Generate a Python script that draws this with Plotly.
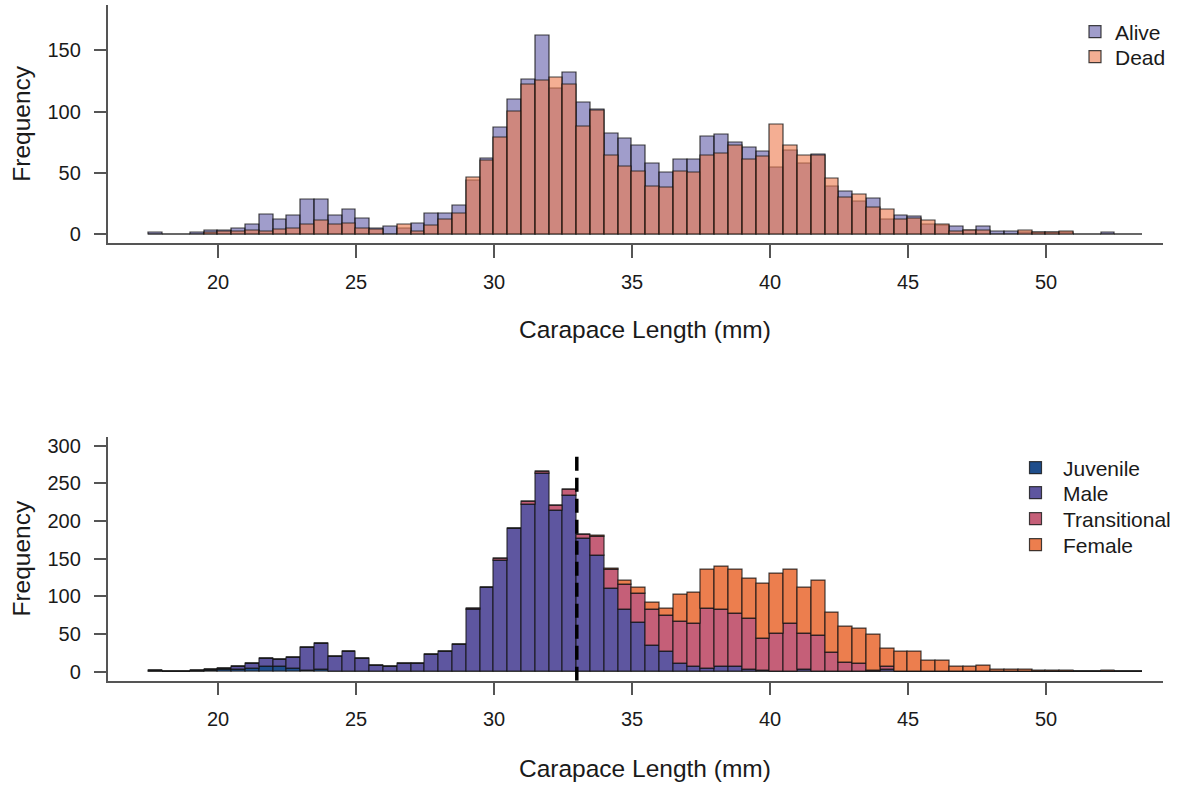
import plotly.graph_objects as go

# ---------------- data ----------------
bin_start = 17.5
bin_width = 0.5

alive = [1, 0, 0, 1, 3, 3, 5, 8, 16, 12,
         15, 28, 28, 15, 20, 13, 5, 6, 5, 9,
         17, 17, 23, 44, 62, 87, 110, 126, 162, 119,
         132, 107, 102, 82, 78, 72, 58, 50, 61, 61,
         80, 81, 75, 71, 67, 54, 68, 58, 65, 39,
         35, 27, 29, 12, 15, 14, 8, 7, 6, 3,
         6, 2, 2, 1, 1, 1, 1, 0, 0, 1,
         0, 0]
dead = [0, 0, 0, 0, 1, 2, 2, 3, 2, 4,
        5, 8, 11, 8, 9, 5, 4, 0, 8, 2,
        7, 12, 17, 46, 60, 79, 100, 122, 125, 128,
        122, 88, 101, 64, 55, 51, 39, 38, 51, 50,
        64, 66, 72, 61, 63, 89, 72, 64, 64, 45,
        30, 32, 22, 20, 12, 13, 11, 8, 2, 3,
        3, 0, 0, 3, 1, 1, 2, 0, 0, 0,
        0, 0]

juvenile = [0, 0, 0, 0, 1, 2, 3, 4, 7, 7,
            4, 1, 3, 0, 0, 0, 0, 0, 0, 0,
            0, 0, 0, 0, 0, 0, 0, 0, 0, 0,
            0, 0, 0, 0, 0, 0, 0, 0, 0, 0,
            0, 0, 0, 0, 0, 0, 0, 0, 0, 0,
            0, 0, 0, 0, 0, 0, 0, 0, 0, 0,
            0, 0, 0, 0, 0, 0, 0, 0, 0, 0,
            0, 0]
male = [1, 0, 0, 1, 2, 2, 4, 7, 10, 9,
        15, 31, 34, 20, 27, 17, 8, 6, 11, 10,
        22, 26, 36, 82, 112, 147, 190, 222, 263, 214,
        233, 176, 154, 110, 82, 65, 34, 26, 10, 7,
        4, 6, 7, 2, 1, 0, 0, 2, 0, 0,
        0, 0, 0, 3, 0, 0, 0, 0, 0, 0,
        0, 0, 0, 0, 0, 0, 0, 0, 0, 0,
        0, 0]
transitional = [0, 0, 0, 0, 0, 0, 0, 0, 0, 0,
                0, 0, 0, 0, 0, 0, 0, 0, 0, 0,
                0, 0, 0, 1, 0, 3, 0, 4, 2, 6,
                8, 6, 25, 26, 34, 39, 48, 48, 56, 57,
                80, 76, 70, 68, 43, 50, 64, 48, 48, 25,
                12, 11, 1, 4, 0, 0, 0, 0, 0, 0,
                0, 0, 0, 0, 0, 0, 0, 0, 0, 0,
                0, 0]
female = [0, 0, 0, 0, 0, 0, 0, 0, 0, 0,
          0, 0, 0, 0, 0, 0, 0, 0, 0, 0,
          0, 0, 0, 0, 0, 0, 0, 0, 0, 0,
          0, 0, 1, 1, 5, 8, 9, 9, 36, 41,
          52, 58, 59, 53, 73, 80, 71, 62, 73, 53,
          48, 46, 48, 24, 26, 26, 15, 15, 6, 6,
          8, 2, 2, 2, 1, 1, 1, 0, 0, 1,
          0, 0]

x_ticks = [20, 25, 30, 35, 40, 45, 50]
y_ticks_top = [0, 50, 100, 150]
y_ticks_bottom = [0, 50, 100, 150, 200, 250, 300]
maturity_cutoff = 33
x_title = "Carapace Length (mm)"
y_title = "Frequency"

# ---------------- figure ----------------
n_bins = len(alive)
centers = [bin_start + bin_width * (i + 0.5) for i in range(n_bins)]

W, H = 1184, 786
FONT = "Liberation Sans, Arial, sans-serif"
TXT = "#1a1a1a"
AXC = "#555555"
EDGE = dict(color="rgba(20,20,20,0.8)", width=1.2)
LEG_FONT = dict(size=21, family=FONT, color=TXT)
TITLE_FONT = dict(size=24.5, family=FONT, color=TXT)

fig = go.Figure()

# top panel: overlaid histograms (one legend per entry for exact placement)
top_series = [("Alive", alive, "rgba(97,92,168,0.6)", 32),
              ("Dead", dead, "rgba(237,120,75,0.6)", 57)]
legend_layout = {}
k = 1
for name, vals, col, ly in top_series:
    lname = "legend" if k == 1 else f"legend{k}"
    fig.add_trace(go.Bar(x=centers, y=vals, width=bin_width, name=name,
                         marker=dict(color=col, line=EDGE),
                         xaxis="x", yaxis="y", legend=lname))
    legend_layout[lname] = dict(x=1075 / W, y=1 - ly / H, xanchor="left", yanchor="middle",
                                font=LEG_FONT, bgcolor="rgba(0,0,0,0)", itemwidth=30)
    k += 1

# bottom panel: stacked histograms using base
series = [("Juvenile", juvenile, "#1f4e8c", 468),
          ("Male", male, "#5e56a0", 493),
          ("Transitional", transitional, "#c55f78", 519),
          ("Female", female, "#ec7e4e", 545)]
cum = [0] * n_bins
for name, vals, col, ly in series:
    lname = f"legend{k}"
    fig.add_trace(go.Bar(x=centers, y=vals, base=list(cum), width=bin_width, name=name,
                         marker=dict(color=col, line=EDGE),
                         xaxis="x2", yaxis="y2", legend=lname))
    legend_layout[lname] = dict(x=1008 / W, y=1 - ly / H, xanchor="left", yanchor="middle",
                                font=LEG_FONT, bgcolor="rgba(0,0,0,0)", itemwidth=45)
    cum = [c + v for c, v in zip(cum, vals)]
    k += 1

px_per_mm = 27.6
x_left_px, x20_px = 107.6, 218.0
x_range = [20 - (x20_px - x_left_px) / px_per_mm, 54.25]
x_right_px = x20_px + (x_range[1] - 20) * px_per_mm
xdom = [x_left_px / W, x_right_px / W]

common_x = dict(range=x_range, domain=xdom, tickvals=x_ticks, showline=True, linecolor=AXC,
                linewidth=1.5, ticks="outside", ticklen=13, tickcolor=AXC, tickwidth=1.5,
                showgrid=False, zeroline=False, tickfont=dict(size=20, family=FONT, color=TXT),
                ticklabelstandoff=7, automargin=False)
common_y = dict(showline=True, linecolor=AXC, linewidth=1.5, ticks="outside", ticklen=12,
                tickcolor=AXC, tickwidth=1.5, showgrid=False, zeroline=False,
                tickfont=dict(size=20, family=FONT, color=TXT), ticklabelstandoff=9,
                automargin=False,
                title=dict(text=y_title, font=TITLE_FONT, standoff=10))

fig.update_layout(
    width=W, height=H, margin=dict(l=0, r=0, t=0, b=0),
    paper_bgcolor="white", plot_bgcolor="white",
    barmode="overlay", bargap=0,
    font=dict(family=FONT, color=TXT),
    xaxis=dict(common_x, anchor="y"),
    yaxis=dict(common_y, range=[-7.2, 187.2], tickvals=y_ticks_top,
               domain=[1 - 243.1 / H, 1 - 4.6 / H], anchor="x"),
    xaxis2=dict(common_x, anchor="y2"),
    yaxis2=dict(common_y, range=[-12, 312], tickvals=y_ticks_bottom,
                domain=[1 - 680.7 / H, 1 - 436.7 / H], anchor="x2"),
    showlegend=True,
    **legend_layout,
)

# x-axis titles (centred on the full plotting region, as in the original)
for ty in (330, 768):
    fig.add_annotation(text=x_title, xref="paper", yref="paper", x=645 / W, y=1 - ty / H,
                       xanchor="center", yanchor="middle", showarrow=False, font=TITLE_FONT)

fig.add_shape(type="line", xref="x2", yref="y2", x0=maturity_cutoff, x1=maturity_cutoff,
              y0=-12, y1=290, line=dict(color="black", width=3.5, dash="14px,7px"))

fig.write_html("out.html")
